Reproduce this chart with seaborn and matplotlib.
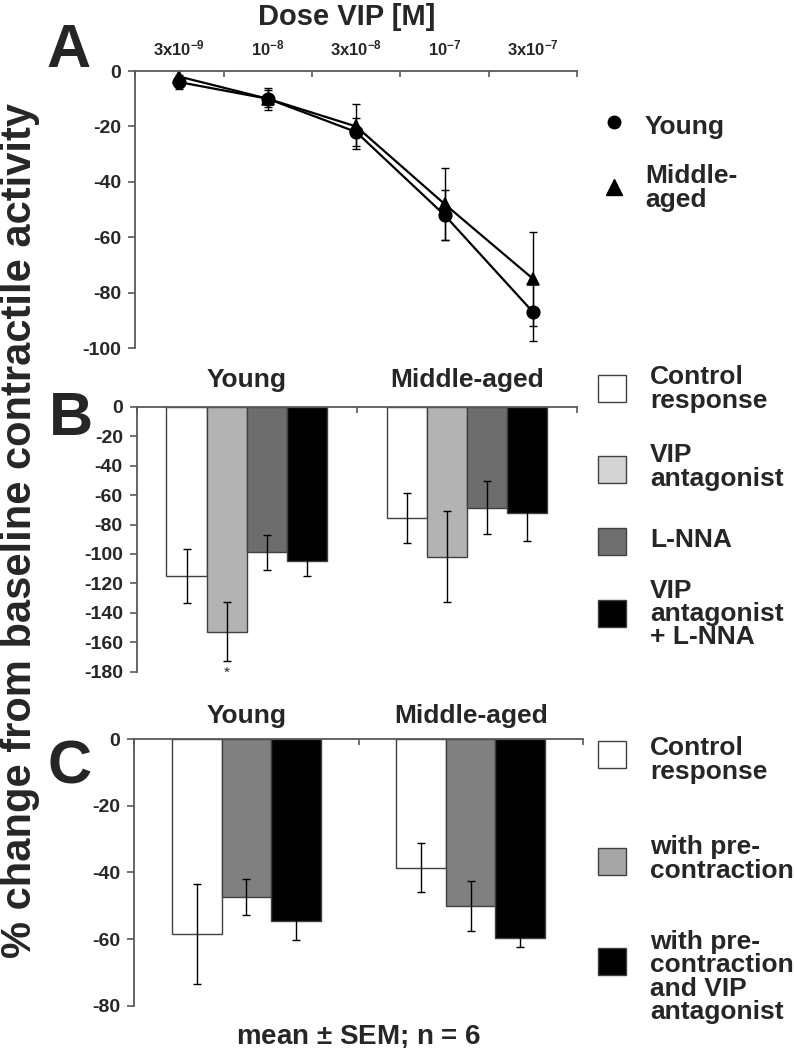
import numpy as np
import pandas as pd
import seaborn as sns
import matplotlib.pyplot as plt
from matplotlib.patches import Rectangle
from matplotlib.lines import Line2D
from matplotlib.ticker import FixedLocator

# === データ ===
doses = ["3e-9", "1e-8", "3e-8", "1e-7", "3e-7"]
dose_labels = [r"$\mathbf{3x10^{-9}}$", r"$\mathbf{10^{-8}}$", r"$\mathbf{3x10^{-8}}$",
               r"$\mathbf{10^{-7}}$", r"$\mathbf{3x10^{-7}}$"]
ages = ["Young", "Middle-aged"]
young_dose = [-4, -10, -22, -52, -87]
young_dose_sem = [2.5, 3, 5, 9, 10.5]
middle_dose = [-2, -10, -20, -48, -75]
middle_dose_sem = [3, 4, 8, 13, 17]

b_treat = ["Control\nresponse", "VIP\nantagonist", "L-NNA", "VIP\nantagonist\n+ L-NNA"]
b_young = [-115, -153, -99, -105]
b_young_sem = [18.5, 20, 12, 10]
b_middle = [-75.5, -102, -68.5, -72]
b_middle_sem = [17, 31, 18, 19.5]
b_colors = ["#ffffff", "#b3b3b3", "#6d6d6d", "#000000"]
b_legend_colors = ["#ffffff", "#d4d4d4", "#6f6f6f", "#000000"]

c_treat = ["Control\nresponse", "with pre-\ncontraction", "with pre-\ncontraction\nand VIP\nantagonist"]
c_young = [-58.5, -47.4, -54.5]
c_young_sem = [15, 5.5, 5.7]
c_middle = [-38.6, -50, -59.6]
c_middle_sem = [7.4, 7.5, 2.7]
c_colors = ["#ffffff", "#808080", "#000000"]
c_legend_colors = ["#ffffff", "#a6a6a6", "#000000"]

# === スタイル ===
sns.set_theme(style="white")
plt.rcParams["font.family"] = ["Liberation Sans", "DejaVu Sans"]
plt.rcParams["font.weight"] = "bold"
plt.rcParams["axes.unicode_minus"] = False
plt.rcParams["mathtext.fontset"] = "custom"
plt.rcParams["mathtext.bf"] = "Liberation Sans:bold"
plt.rcParams["mathtext.rm"] = "Liberation Sans:bold"

W, H = 795, 1048
fig = plt.figure(figsize=(W / 100, H / 100), dpi=100)


def fx(px):
    return px / W


def fy(py):
    return 1 - py / H


axA = fig.add_axes([0.170, 0.6679, 0.556, 0.2643])
axB = fig.add_axes([0.172, 0.3592, 0.554, 0.2525])
axC = fig.add_axes([0.169, 0.0404, 0.564, 0.2542])

spine_col = "#595959"


def style_axis(ax, ymin, step, labels, xlabsize, xpad):
    n = len(labels)
    ax.set_xlim(-0.5, n - 0.5)
    ax.set_ylim(ymin, 0)
    ax.set_yticks(np.arange(ymin, 1, step))
    ax.set_yticklabels([str(v) for v in np.arange(ymin, 1, step)])
    ax.xaxis.tick_top()
    ax.set_xticks(range(n))
    ax.set_xticklabels(labels)
    ax.xaxis.set_minor_locator(FixedLocator(np.arange(-0.5, n, 1)))
    ax.spines[["right", "bottom"]].set_visible(False)
    for s in ["left", "top"]:
        ax.spines[s].set_color(spine_col)
        ax.spines[s].set_linewidth(1.3)
    ax.tick_params(axis="y", left=True, direction="out", length=5, width=1.2,
                   color=spine_col, labelsize=14, pad=5)
    ax.tick_params(axis="x", which="major", top=True, bottom=False, length=0,
                   labelsize=xlabsize, pad=xpad)
    ax.tick_params(axis="x", which="minor", top=True, bottom=False, direction="in",
                   length=4, width=1.2, color=spine_col)
    ax.set_xlabel("")
    ax.set_ylabel("")


# === A: 用量反応曲線 ===
dfa = pd.DataFrame({
    "dose": doses * 2,
    "value": young_dose + middle_dose,
    "group": ["Young"] * len(doses) + ["Middle-aged"] * len(doses),
})
sns.pointplot(data=dfa, x="dose", y="value", hue="group", order=doses, hue_order=ages,
              palette=["black", "black"], markers=["o", "^"], linestyles=["-", "-"],
              errorbar=None, legend=False, ax=axA, markersize=9, linewidth=1.6)
pos = np.arange(len(doses))
for vals, sems in [(young_dose, young_dose_sem), (middle_dose, middle_dose_sem)]:
    axA.errorbar(pos, vals, yerr=sems, fmt="none", ecolor="black", elinewidth=1, capsize=3)
style_axis(axA, -100, 20, dose_labels, 12, 9)


# === 棒グラフ共通 ===
def draw_bars(ax, treats, young, young_sem, middle, middle_sem, colors, width):
    df = pd.DataFrame({
        "age": ages * len(treats),
        "treat": [t for t in treats for _ in ages],
        "value": [v for pair in zip(young, middle) for v in pair],
    })
    sns.barplot(data=df, x="age", y="value", hue="treat", order=ages, hue_order=treats,
                palette=colors, width=width, errorbar=None, legend=False, ax=ax,
                edgecolor="#404040", linewidth=1)
    sems = list(zip(young_sem, middle_sem))
    for cont, s in zip(ax.containers, sems):
        xs = [b.get_x() + b.get_width() / 2 for b in cont]
        ys = [b.get_height() for b in cont]
        ax.errorbar(xs, ys, yerr=s, fmt="none", ecolor="black", elinewidth=1, capsize=3)
    return ax


draw_bars(axB, b_treat, b_young, b_young_sem, b_middle, b_middle_sem, b_colors, 0.73)
style_axis(axB, -180, 20, ages, 19, 11)
star_bar = axB.containers[1][0]
axB.annotate("*", xy=(star_bar.get_x() + star_bar.get_width() / 2, b_young[1] - b_young_sem[1]),
             xytext=(0, -3), textcoords="offset points", ha="center", va="top",
             fontsize=11, fontweight="normal")

draw_bars(axC, c_treat, c_young, c_young_sem, c_middle, c_middle_sem, c_colors, 0.665)
style_axis(axC, -80, 20, ages, 19, 8)

# === テキスト ===
fig.text(fx(347), fy(25), "Dose VIP [M]", ha="center", va="baseline", fontsize=21)
for letter, x, y in [("A", 69, 67), ("B", 71, 435), ("C", 70, 783)]:
    fig.text(fx(x), fy(y), letter, ha="center", va="baseline", fontsize=44)
fig.text(fx(20), fy(530), "% change from baseline contractile activity", rotation=90,
         ha="center", va="center", fontsize=30)
fig.text(fx(359), fy(1043), "mean $\\pm$ SEM; n = 6", ha="center", va="baseline", fontsize=20)

# === 凡例 ===
for mk, ms, my, label, ty in [("o", 9, 122, "Young", 127), ("^", 12, 187, "Middle-\naged", 188)]:
    fig.add_artist(Line2D([fx(614)], [fy(my)], transform=fig.transFigure, marker=mk,
                          markersize=ms, color="black", linestyle="none"))
    fig.text(fx(645), fy(ty), label, ha="left", va="center", fontsize=19, linespacing=0.95)


def legend_box(labels, colors, sw_y, txt_y):
    for lab, col, sy, ty in zip(labels, colors, sw_y, txt_y):
        fig.add_artist(Rectangle((fx(598), fy(sy + 14)), 28 / W, 27 / H, transform=fig.transFigure,
                                 facecolor=col, edgecolor="#404040", linewidth=1))
        fig.text(fx(650), fy(ty), lab, ha="left", va="center", fontsize=19, linespacing=0.95)


legend_box(b_treat, b_legend_colors, [388, 469, 541, 613], [389, 467, 540, 614])
legend_box(c_treat, c_legend_colors, [754, 861, 961], [760, 859, 977])

fig.savefig("out.png", dpi=100)
